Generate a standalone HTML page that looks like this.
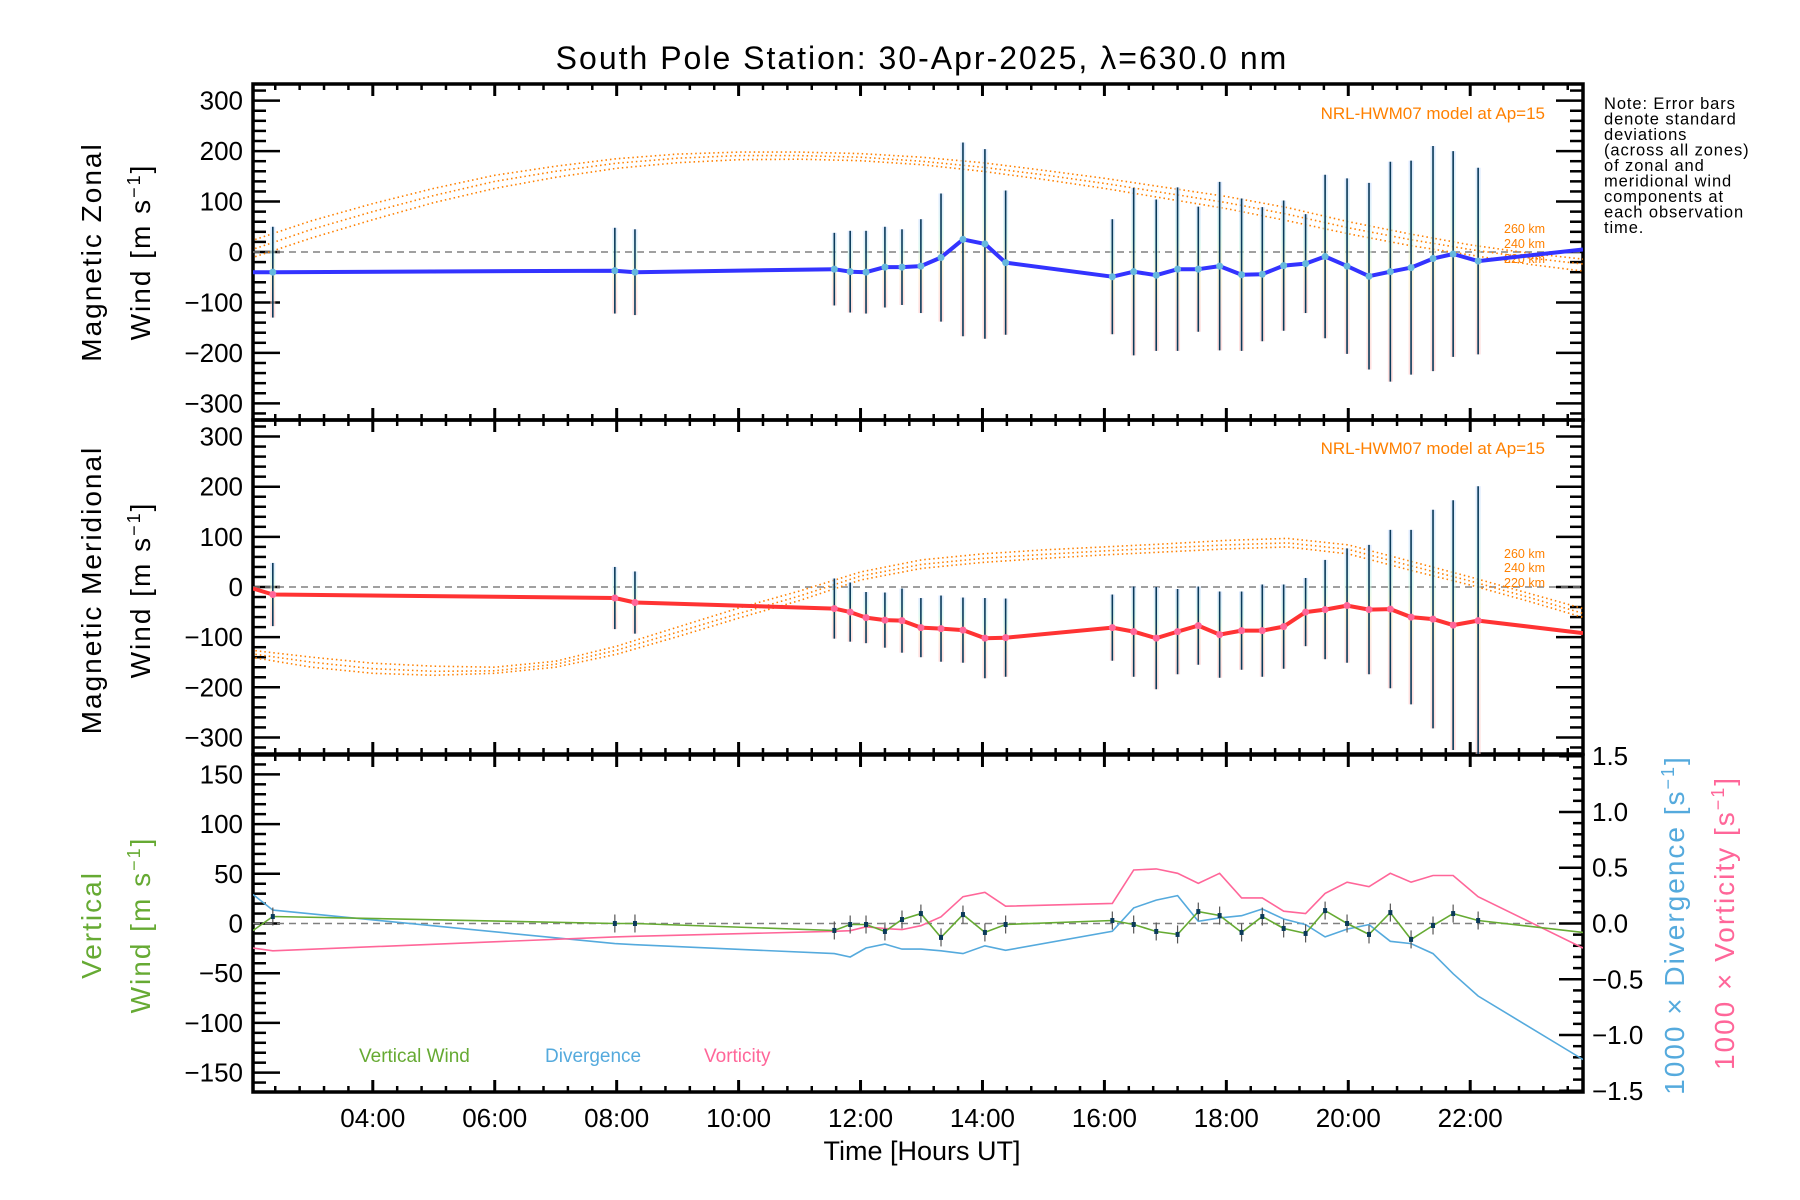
<!DOCTYPE html>
<html><head><meta charset="utf-8"><style>
html,body{margin:0;padding:0;background:#fff;}
svg{display:block;font-family:"Liberation Sans",sans-serif;}
</style></head><body>
<svg id="chart" width="1800" height="1200" viewBox="0 0 1800 1200" xmlns="http://www.w3.org/2000/svg">
<defs>
<clipPath id="c1"><rect x="253" y="84" width="1330" height="336"/></clipPath>
<clipPath id="c2"><rect x="253" y="420" width="1330" height="334"/></clipPath>
<clipPath id="c3"><rect x="253" y="755" width="1330" height="337"/></clipPath>
<linearGradient id="pastel" x1="0" y1="0" x2="0" y2="1">
<stop offset="0" stop-color="#c8dcff"/><stop offset="0.3" stop-color="#c8f4e8"/><stop offset="0.5" stop-color="#f8f4c4"/><stop offset="0.75" stop-color="#ffd8cc"/><stop offset="1" stop-color="#ffc8c8"/>
</linearGradient>
</defs>
<text x="922" y="69" font-size="32" letter-spacing="2" text-anchor="middle" fill="#000">South Pole Station: 30-Apr-2025, λ=630.0 nm</text>
<g font-size="16.5" letter-spacing="0.9" fill="#000">
<text x="1604" y="109">Note: Error bars</text>
<text x="1604" y="124.5">denote standard</text>
<text x="1604" y="140">deviations</text>
<text x="1604" y="155.5">(across all zones)</text>
<text x="1604" y="171">of zonal and</text>
<text x="1604" y="186.5">meridional wind</text>
<text x="1604" y="202">components at</text>
<text x="1604" y="217.5">each observation</text>
<text x="1604" y="233">time.</text>
</g>
<g id="layer"></g>
</svg>
<script>
// ---- data ----
const times = [2.035,2.36,7.97,8.30,11.57,11.83,12.09,12.40,12.68,12.99,13.32,13.68,14.04,14.38,16.13,16.48,16.85,17.20,17.54,17.89,18.25,18.59,18.94,19.30,19.62,19.98,20.34,20.69,21.03,21.39,21.72,22.13,23.85];
const zonal = [-40,-40,-37,-40,-34,-39,-40,-30,-30,-28,-11,25,16,-21,-49,-39,-46,-34,-34,-28,-45,-44,-27,-23,-9,-28,-48,-39,-31,-13,-4,-18,5];
const zonalStd = [0,90,85,85,72,81,82,80,75,93,127,192,188,143,114,166,150,162,124,167,151,133,129,98,162,174,185,218,212,223,204,185,0];
const merid = [-3,-15,-22,-31,-43,-50,-61,-66,-67,-81,-83,-86,-102,-101,-81,-89,-102,-89,-77,-95,-87,-87,-79,-50,-45,-37,-45,-44,-60,-64,-76,-67,-92];
const meridStd = [0,63,62,62,60,59,51,55,64,59,66,65,80,78,66,90,102,85,78,86,78,92,84,68,99,114,129,158,174,218,249,268,0];
const vertical = [-7,7,0,0,-7,-1,-1,-8,4,10,-14,9,-9,-1,3,-1,-8,-11,12,8,-9,7,-5,-10,13,0,-11,11,-16,-2,10,3,-9];
const divergence = [0.26,0.12,-0.18,-0.19,-0.27,-0.30,-0.22,-0.185,-0.23,-0.23,-0.245,-0.27,-0.2,-0.24,-0.07,0.14,0.21,0.25,0.02,0.05,0.07,0.13,0.04,-0.01,-0.12,-0.05,-0.01,-0.16,-0.18,-0.27,-0.45,-0.65,-1.22];
const vorticity = [-0.22,-0.245,-0.12,-0.115,-0.07,-0.065,-0.03,-0.045,-0.055,-0.02,0.06,0.24,0.28,0.155,0.18,0.48,0.49,0.45,0.36,0.45,0.23,0.23,0.11,0.09,0.27,0.37,0.33,0.45,0.37,0.43,0.43,0.24,-0.22];
const modelHours = [2,3,4,5,6,7,8,9,10,11,12,13,14,15,16,17,18,19,20,21,22,23,24];
const hwmZonal260 = [22,62,96,126,152,170,185,194,198,198,195,188,177,162,146,128,110,88,60,36,14,-3,-16];
const hwmZonal240 = [4,45,80,112,140,160,176,186,191,191,188,180,168,153,136,117,98,75,48,25,5,-12,-26];
const hwmZonal220 = [-12,28,64,98,126,148,166,177,183,184,181,173,160,144,126,106,86,62,36,13,-6,-25,-40];
const hwmMerid260 = [-126,-140,-152,-158,-160,-148,-118,-80,-42,-8,30,54,66,74,80,86,93,97,84,52,20,-14,-48];
const hwmMerid240 = [-133,-150,-163,-168,-167,-154,-126,-90,-53,-18,22,45,57,65,72,78,84,88,75,43,12,-22,-58];
const hwmMerid220 = [-140,-160,-172,-176,-172,-160,-134,-99,-62,-27,14,37,49,57,64,70,76,80,66,34,4,-30,-66];
const hourTicks = [4,6,8,10,12,14,16,18,20,22];
const hourLabels = ["04:00","06:00","08:00","10:00","12:00","14:00","16:00","18:00","20:00","22:00"];
const windTicks = [-300,-200,-100,0,100,200,300];
const vertTicks = [-150,-100,-50,0,50,100,150];
const rightTicks = [-1.5,-1.0,-0.5,0.0,0.5,1.0,1.5];

// ---- scales ----
const X0=253, X1=1583, H0=2.035, H1=23.85;
const xs = h => X0 + (h-H0)/(H1-H0)*(X1-X0);
const P1={top:84,bot:420,min:-333,max:333,clip:'c1'};
const P2={top:420,bot:754,min:-333,max:333,clip:'c2'};
const P3={top:755,bot:1092,min:-169.5,max:169.5,clip:'c3'};
const P3R={top:755,bot:1092,min:-1.511,max:1.511};
const ys = (p,v) => p.bot - (v-p.min)/(p.max-p.min)*(p.bot-p.top);

const NS='http://www.w3.org/2000/svg';
const layer=document.getElementById('layer');
function mk(tag, attrs, parent){
  const e=document.createElementNS(NS,tag);
  for(const k in attrs) e.setAttribute(k,attrs[k]);
  (parent||layer).appendChild(e);
  return e;
}
function group(name, clip){
  const g=mk('g', clip?{'clip-path':'url(#'+clip+')'}:{});
  
  
  return g;
}

// ---- panel frames & axes ----
function axes(p, name, yt, minorStep, rightScale){
  const g=group(name+'-axes');
  mk('rect',{x:X0,y:p.top,width:X1-X0,height:p.bot-p.top,fill:'none',stroke:'#000','stroke-width':3.5},g);
  for(let h=2.4; h<H1; h+=0.4){
    const x=xs(h); const major=hourTicks.some(t=>Math.abs(t-h)<0.01);
    const L=major?12:6;
    mk('line',{x1:x,x2:x,y1:p.bot,y2:p.bot-L,stroke:'#000','stroke-width':major?3:2.5},g);
    mk('line',{x1:x,x2:x,y1:p.top,y2:p.top+L,stroke:'#000','stroke-width':major?3:2.5},g);
  }
  for(let v=Math.ceil(p.min/minorStep)*minorStep; v<=p.max; v+=minorStep){
    const y=ys(p,v); const major=yt.includes(Math.round(v));
    const L=major?27:13;
    mk('line',{x1:X0,x2:X0+L,y1:y,y2:y,stroke:'#000','stroke-width':2.5},g);
    if(!rightScale) mk('line',{x1:X1,x2:X1-L,y1:y,y2:y,stroke:'#000','stroke-width':2.5},g);
  }
  yt.forEach(v=>{
    const t=mk('text',{x:243,y:ys(p,v)+9,'font-size':26,'text-anchor':'end',fill:'#000'},g);
    t.textContent=(v<0?'\u2212'+(-v):String(v));
    
    
  });
  mk('line',{x1:X0,x2:X1,y1:ys(p,0),y2:ys(p,0),stroke:'#808080','stroke-width':1.5,'stroke-dasharray':'7,5'},g);
}
axes(P1,'zonal',windTicks,20,false);
axes(P2,'meridional',windTicks,20,false);
axes(P3,'vertical',vertTicks,10,true);
{
  const g=group('right-axis');
  for(let i=-15;i<=15;i++){
    const v=i/10; const y=ys(P3R,v); const major=(i%5===0);
    mk('line',{x1:X1,x2:X1-(major?24:10),y1:y,y2:y,stroke:'#000','stroke-width':2.5},g);
  }
  rightTicks.forEach(v=>{
    const t=mk('text',{x:1592,y:ys(P3R,v)+9,'font-size':26,fill:'#000'},g);
    t.textContent=(v<0?'\u2212':'')+Math.abs(v).toFixed(1);
    
    
  });
}
{
  const g=group('x-axis-labels');
  hourTicks.forEach((h,i)=>{
    const t=mk('text',{x:xs(h),y:1127,'font-size':26,'text-anchor':'middle',fill:'#000'},g);
    t.textContent=hourLabels[i];
    
    
  });
  const t=mk('text',{x:922,y:1160,'font-size':27,'text-anchor':'middle',fill:'#000'},g);
  t.textContent='Time [Hours UT]';
  
  
}
function ytitle(x,y,txt,color,name,sup){
  const t=mk('text',{x:0,y:0,'font-size':28,'letter-spacing':2,'text-anchor':'middle',fill:color,transform:`translate(${x},${y}) rotate(-90)`});
  t.textContent=txt;
  if(sup){const s=document.createElementNS(NS,'tspan');s.setAttribute('dy','-10');s.setAttribute('font-size','18');s.textContent='\u22121';t.appendChild(s);
    const s2=document.createElementNS(NS,'tspan');s2.setAttribute('dy','10');s2.textContent=']';t.appendChild(s2);}
  
  
}
ytitle(101,252,'Magnetic Zonal','#000','zonal-y-title-1',false);
ytitle(150,252,'Wind [m s','#000','zonal-y-title-2',true);
ytitle(101,590,'Magnetic Meridional','#000','meridional-y-title-1',false);
ytitle(150,590,'Wind [m s','#000','meridional-y-title-2',true);
ytitle(101,925,'Vertical','#66aa33','vertical-y-title-1',false);
ytitle(150,925,'Wind [m s','#66aa33','vertical-y-title-2',true);
ytitle(1684,925,'1000 \u00d7 Divergence [s','#55aadd','divergence-y-title',true);
ytitle(1734,923,'1000 \u00d7 Vorticity [s','#ff6699','vorticity-y-title',true);

// ---- model curves ----
function model(p, arr, name){
  const g=group(name,p.clip);
  const d=modelHours.map((h,i)=>(i?'L':'M')+xs(h).toFixed(1)+','+ys(p,arr[i]).toFixed(1)).join(' ');
  mk('path',{d:d,fill:'none',stroke:'#ff8000','stroke-width':1.6,'stroke-dasharray':'1.5,3'},g);
}
model(P1,hwmZonal260,'hwm-zonal-260');model(P1,hwmZonal240,'hwm-zonal-240');model(P1,hwmZonal220,'hwm-zonal-220');
model(P2,hwmMerid260,'hwm-merid-260');model(P2,hwmMerid240,'hwm-merid-240');model(P2,hwmMerid220,'hwm-merid-220');
function otext(x,y,s,txt,name){
  const t=mk('text',{x:x,y:y,'font-size':s,'text-anchor':'end',fill:'#ff8000'});
  t.textContent=txt;
  
  
}
otext(1545,119,17,'NRL-HWM07 model at Ap=15','model-label-zonal');
otext(1545,454,17,'NRL-HWM07 model at Ap=15','model-label-meridional');
otext(1545,233,12.5,'260 km','alt-260-zonal');otext(1545,248,12.5,'240 km','alt-240-zonal');otext(1545,263,12.5,'220 km','alt-220-zonal');
otext(1545,558,12.5,'260 km','alt-260-merid');otext(1545,572,12.5,'240 km','alt-240-merid');otext(1545,587,12.5,'220 km','alt-220-merid');

// ---- wind panels ----
function windPanel(p, vals, std, lineColor, dotColor, name){
  const g=group(name+'-series',p.clip);
  times.forEach((h,i)=>{
    if(std[i]<=0) return;
    const x=xs(h);
    const r=mk('rect',{x:x-2.5,y:ys(p,vals[i]+std[i]),width:5,height:ys(p,vals[i]-std[i])-ys(p,vals[i]+std[i]),fill:'url(#pastel)',opacity:0.6},g);
    
    
  });
  times.forEach((h,i)=>{
    if(std[i]<=0) return;
    const x=xs(h);
    const l=mk('line',{x1:x,x2:x,y1:ys(p,vals[i]+std[i]),y2:ys(p,vals[i]-std[i]),stroke:'#0a3a5a','stroke-width':1.6},g);
    
    
  });
  const pl=mk('polyline',{points:times.map((h,i)=>xs(h).toFixed(1)+','+ys(p,vals[i]).toFixed(1)).join(' '),fill:'none',stroke:lineColor,'stroke-width':4,'stroke-linejoin':'round'},g);
  
  
  times.forEach((h,i)=>{
    if(std[i]<=0) return;
    const c=mk('circle',{cx:xs(h),cy:ys(p,vals[i]),r:3.5,fill:dotColor},g);
    
    
  });
}
windPanel(P1,zonal,zonalStd,'#3333ff','#66b8dd','zonal');
windPanel(P2,merid,meridStd,'#ff3333','#ff6699','meridional');

// ---- panel 3 ----
{
  const g=group('vertical-panel-series',P3.clip);
  const dv=mk('polyline',{points:times.map((h,i)=>xs(h).toFixed(1)+','+ys(P3R,divergence[i]).toFixed(1)).join(' '),fill:'none',stroke:'#55aadd','stroke-width':1.6},g);
  
  
  const vo=mk('polyline',{points:times.map((h,i)=>xs(h).toFixed(1)+','+ys(P3R,vorticity[i]).toFixed(1)).join(' '),fill:'none',stroke:'#ff6699','stroke-width':1.6},g);
  
  
  const vw=mk('polyline',{points:times.map((h,i)=>xs(h).toFixed(1)+','+ys(P3,vertical[i]).toFixed(1)).join(' '),fill:'none',stroke:'#66aa33','stroke-width':1.6},g);
  
  
  times.forEach((h,i)=>{
    if(i===0||i===times.length-1) return;
    const x=xs(h), y=ys(P3,vertical[i]);
    const e=mk('line',{x1:x,x2:x,y1:y-9,y2:y+9,stroke:'#555','stroke-width':1.2},g);
    
    
    const m=mk('rect',{x:x-2,y:y-2.5,width:4,height:5,fill:'#0a3a5a'},g);
    
    
  });
}
[['Vertical Wind',359,'#66aa33','legend-vertical-wind'],['Divergence',545,'#55aadd','legend-divergence'],['Vorticity',704,'#ff6699','legend-vorticity']].forEach(a=>{
  const t=mk('text',{x:a[1],y:1062,'font-size':19,fill:a[2]});
  t.textContent=a[0];
  
  
});
</script>
</body></html>
